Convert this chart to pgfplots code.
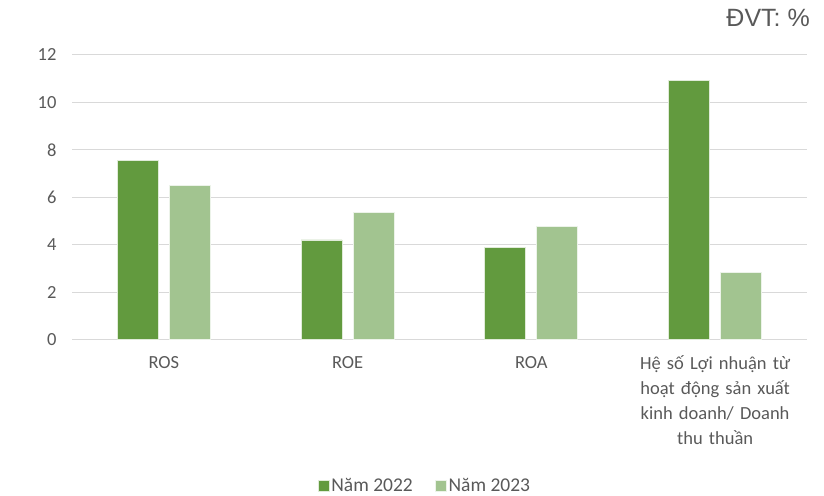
\documentclass[border=0pt]{standalone}
\usepackage{pgfplots}
\pgfplotsset{compat=1.18}
\usepackage{fontspec}
\setmainfont{Carlito}
\newfontfamily\arialfont{Liberation Sans}
\definecolor{darkg}{HTML}{629A3E}
\definecolor{lightg}{HTML}{A2C490}
\definecolor{gridc}{HTML}{D9D9D9}
\definecolor{txt}{HTML}{595959}
\begin{document}
\begin{tikzpicture}
\useasboundingbox (0pt,0pt) rectangle (824pt,495pt);
\begin{axis}[
  at={(72pt,155.5pt)}, anchor=south west,
  scale only axis, width=735pt, height=284.5pt,
  ymin=0, ymax=12, ytick={0,2,...,12},
  xmin=-0.5, xmax=3.5, xtick={0,1,2,3},
  xticklabels={ROS,ROE,ROA,{Hệ số Lợi nhuận từ\\hoạt động sản xuất\\kinh doanh/ Doanh\\thu thuần}},
  ybar=11pt, bar width=41pt,
  axis y line=left, axis x line=bottom,
  y axis line style={draw=none},
  x axis line style={draw=gridc, line width=1pt, -},
  ymajorgrids, grid style={gridc, line width=1pt},
  major tick length=0pt,
  tick label style={font=\fontsize{18.5}{25}\selectfont, text=txt},
  yticklabel style={xshift=-12pt},
  xticklabel style={align=center, text width=200pt, yshift=-13pt},
  /pgf/number format/assume math mode=true,
  legend columns=2,
  legend style={at={(0.48,-0.513)}, anchor=center, draw=none,
     font=\fontsize{19.5}{21}\selectfont, text=txt,
     /tikz/every even column/.append style={column sep=20pt}},
  legend image code/.code={\fill[#1] (0pt,-5.5pt) rectangle (11pt,5.5pt);},
]
\addplot[fill=darkg, draw=white!80!darkg, line width=0.8pt] coordinates {(0,7.55) (1,4.2) (2,3.9) (3,10.93)};
\addplot[fill=lightg, draw=white!80!lightg, line width=0.8pt] coordinates {(0,6.48) (1,5.34) (2,4.76) (3,2.82)};
\legend{Năm 2022, Năm 2023}
\end{axis}
\node[anchor=north east, text=txt, font=\arialfont\fontsize{25}{28}\selectfont, inner sep=0pt] at (810pt,486pt) {ĐVT: \%};
\end{tikzpicture}
\end{document}
